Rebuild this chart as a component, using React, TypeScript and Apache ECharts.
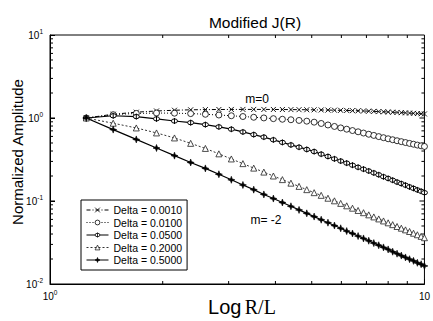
import React, { useEffect, useRef } from "react";
import * as echarts from "echarts";

// R/L sample positions (linear spacing)
const X = [
  1.25, 1.475, 1.7, 1.925, 2.15, 2.375, 2.6, 2.825, 3.05, 3.275,
  3.5, 3.725, 3.95, 4.175, 4.4, 4.625, 4.85, 5.075, 5.3, 5.525,
  5.75, 5.975, 6.2, 6.425, 6.65, 6.875, 7.1, 7.325, 7.55, 7.775,
  8.0, 8.225, 8.45, 8.675, 8.9, 9.125, 9.35, 9.575, 9.8, 10.0,
];

const D0010 = [
  1.0, 1.11, 1.175, 1.215, 1.24, 1.255, 1.262, 1.266, 1.268, 1.269,
  1.269, 1.268, 1.267, 1.265, 1.263, 1.26, 1.257, 1.254, 1.25, 1.246,
  1.242, 1.237, 1.232, 1.227, 1.221, 1.215, 1.209, 1.202, 1.195, 1.188,
  1.181, 1.174, 1.167, 1.16, 1.153, 1.146, 1.139, 1.132, 1.125, 1.119,
];

const D0100 = [
  1.0, 1.096, 1.135, 1.148, 1.143, 1.13, 1.109, 1.086, 1.064, 1.042,
  1.021, 1.002, 0.982, 0.966, 0.953, 0.935, 0.916, 0.891, 0.859, 0.824,
  0.791, 0.76, 0.733, 0.706, 0.682, 0.659, 0.637, 0.617, 0.597, 0.579,
  0.562, 0.547, 0.532, 0.519, 0.506, 0.494, 0.483, 0.472, 0.462, 0.454,
];

const D0500 = [
  1.0, 1.064, 1.04, 0.977, 0.92, 0.879, 0.832, 0.782, 0.733, 0.679,
  0.631, 0.589, 0.546, 0.508, 0.474, 0.445, 0.418, 0.394, 0.367, 0.344,
  0.322, 0.303, 0.286, 0.27, 0.255, 0.242, 0.23, 0.218, 0.207, 0.196,
  0.187, 0.178, 0.169, 0.162, 0.155, 0.148, 0.142, 0.136, 0.131, 0.126,
];

const D2000 = [
  1.0, 0.865, 0.759, 0.661, 0.575, 0.495, 0.43, 0.37, 0.321, 0.282,
  0.249, 0.223, 0.2, 0.181, 0.164, 0.15, 0.137, 0.126, 0.117, 0.108,
  0.1005, 0.0936, 0.0875, 0.0819, 0.0769, 0.0723, 0.0681, 0.0643, 0.0608, 0.0575,
  0.0546, 0.0519, 0.0493, 0.047, 0.0449, 0.0429, 0.0409, 0.0392, 0.0375, 0.0361,
];

const D5000 = [
  1.0, 0.725, 0.552, 0.435, 0.352, 0.291, 0.247, 0.21, 0.18, 0.156,
  0.137, 0.12, 0.107, 0.0959, 0.0863, 0.0781, 0.071, 0.0649, 0.0595, 0.0548,
  0.0506, 0.0469, 0.0434, 0.0406, 0.0378, 0.0354, 0.0332, 0.0311, 0.0293, 0.0276,
  0.0261, 0.0245, 0.0232, 0.022, 0.0209, 0.0199, 0.019, 0.018, 0.0173, 0.0165,
];

const NAMES = [
  "Delta = 0.0010",
  "Delta = 0.0100",
  "Delta = 0.0500",
  "Delta = 0.2000",
  "Delta = 0.5000",
];

const X_MINOR = [2, 3, 4, 5, 6, 7, 8, 9];
const Y_MINOR = [
  0.02, 0.03, 0.04, 0.05, 0.06, 0.07, 0.08, 0.09,
  0.2, 0.3, 0.4, 0.5, 0.6, 0.7, 0.8, 0.9,
  2, 3, 4, 5, 6, 7, 8, 9,
];
const Y_MAJOR = [0.1, 1];

const X_MIN = 1, X_MAX = 10, Y_MIN = 0.01, Y_MAX = 10;

const SANS = "Liberation Sans, Arial, sans-serif";
const SERIF = "Liberation Serif, Times New Roman, serif";

const SYM_X = "path://M0,0L10,10M10,0L0,10";
const SYM_O = "path://M0,5a5,5 0 1,0 10,0a5,5 0 1,0 -10,0Z";
const SYM_PHI = "path://M0,5a5,5 0 1,0 10,0a5,5 0 1,0 -10,0ZM5,-2L5,12";
const SYM_TRI = "path://M5,0L10,9L0,9Z";
const SYM_STAR = "path://M5,0L6.3,3.7L10,5L6.3,6.3L5,10L3.7,6.3L0,5L3.7,3.7Z";

export default function App() {
  const ref = useRef<HTMLDivElement>(null);
  useEffect(() => {
    if (!ref.current) return;
    const chart = echarts.init(ref.current, null, { renderer: "svg" });

    const mk = (ys: number[]) => X.map((x, i) => [x, ys[i]]);

    const xTicks = (len: number) => (params: any, api: any) => {
      const v = api.value(0);
      const b = api.coord([v, Y_MIN]);
      const t = api.coord([v, Y_MAX]);
      return {
        type: "group",
        children: [
          { type: "line", shape: { x1: b[0], y1: b[1], x2: b[0], y2: b[1] - len }, style: { stroke: "#000", lineWidth: 1 } },
          { type: "line", shape: { x1: t[0], y1: t[1], x2: t[0], y2: t[1] + len }, style: { stroke: "#000", lineWidth: 1 } },
        ],
      };
    };
    const yTicks = (len: number) => (params: any, api: any) => {
      const v = api.value(1);
      const l = api.coord([X_MIN, v]);
      const r = api.coord([X_MAX, v]);
      return {
        type: "group",
        children: [
          { type: "line", shape: { x1: l[0], y1: l[1], x2: l[0] + len, y2: l[1] }, style: { stroke: "#000", lineWidth: 1 } },
          { type: "line", shape: { x1: r[0], y1: r[1], x2: r[0] - len, y2: r[1] }, style: { stroke: "#000", lineWidth: 1 } },
        ],
      };
    };

    const supLabel = (v: number, isX: boolean) => {
      const e = Math.round(Math.log10(v));
      if (isX && e === 1) return "{b|10}";
      return "{b|10}{s|" + e + "}";
    };
    const rich = {
      b: { fontSize: 10, fontFamily: SANS, color: "#000", lineHeight: 12 },
      s: { fontSize: 6.5, fontFamily: SANS, color: "#000", lineHeight: 12, padding: [0, 0, 7, 0] },
    };

    const lineBase = {
      type: "line" as const,
      showSymbol: true,
      symbolSize: 6,
      z: 3,
    };

    chart.setOption({
      animation: false,
      backgroundColor: "#fff",
      title: {
        text: "Modified J(R)",
        left: 250,
        top: 9,
        textAlign: "center",
        textStyle: { fontSize: 15.5, fontWeight: "normal", fontFamily: SANS, color: "#000" },
      },
      grid: {
        left: 50,
        right: 5,
        top: 35,
        bottom: 37,
        show: true,
        borderColor: "#000",
        borderWidth: 1,
        backgroundColor: "transparent",
      },
      xAxis: {
        type: "log",
        logBase: 10,
        min: X_MIN,
        max: X_MAX,
        axisLine: { show: true, lineStyle: { color: "#000" } },
        axisTick: { show: true, inside: true, length: 5, lineStyle: { color: "#000" } },
        splitLine: { show: false },
        axisLabel: { margin: 6, formatter: (v: number) => supLabel(v, true), rich },
      },
      yAxis: {
        type: "log",
        logBase: 10,
        min: Y_MIN,
        max: Y_MAX,
        axisLine: { show: true, lineStyle: { color: "#000" } },
        axisTick: { show: true, inside: true, length: 5, lineStyle: { color: "#000" } },
        splitLine: { show: false },
        axisLabel: { margin: 7, formatter: (v: number) => supLabel(v, false), rich },
      },
      legend: {
        orient: "vertical",
        left: 81,
        top: 200,
        itemWidth: 22,
        itemHeight: 6,
        itemGap: 0.5,
        padding: [4, 5, 4, 5],
        borderColor: "#000",
        borderWidth: 1,
        backgroundColor: "#fff",
        lineStyle: { width: 1 },
        itemStyle: { borderWidth: 0.8 },
        textStyle: { fontSize: 10.5, fontFamily: SANS, color: "#000", lineHeight: 12 },
        data: NAMES,
      },
      graphic: [
        {
          type: "text",
          x: 17,
          y: 152,
          rotation: Math.PI / 2,
          style: {
            text: "Normalized Amplitude",
            fontSize: 15,
            fontFamily: SANS,
            fill: "#000",
            textAlign: "center",
            textVerticalAlign: "middle",
          },
        },
        {
          type: "text",
          x: 242,
          y: 307,
          style: {
            text: "{a|Log} {c|R/L}",
            textAlign: "center",
            textVerticalAlign: "middle",
            rich: {
              a: { fontSize: 20, fontFamily: SANS, fill: "#000" },
              c: { fontSize: 20, fontFamily: SERIF, fill: "#000" },
            },
          } as any,
        },
        {
          type: "text",
          x: 257,
          y: 99,
          style: { text: "m=0", fontSize: 12, fontFamily: SANS, fill: "#000", textAlign: "center", textVerticalAlign: "middle" },
        },
        {
          type: "text",
          x: 266,
          y: 220,
          style: { text: "m= -2", fontSize: 12, fontFamily: SANS, fill: "#000", textAlign: "center", textVerticalAlign: "middle" },
        },
      ],
      series: [
        {
          ...lineBase,
          name: NAMES[0],
          data: mk(D0010),
          symbol: SYM_X,
          symbolSize: 5,
          lineStyle: { color: "#000", width: 1, type: [4, 2, 1, 2] },
          itemStyle: { color: "none", borderColor: "#000", borderWidth: 0.9 },
        },
        {
          ...lineBase,
          name: NAMES[1],
          data: mk(D0100),
          symbol: SYM_O,
          symbolSize: 6,
          lineStyle: { color: "#000", width: 1, type: [1, 2] },
          itemStyle: { color: "#fff", borderColor: "#000", borderWidth: 0.8 },
        },
        {
          ...lineBase,
          name: NAMES[2],
          data: mk(D0500),
          symbol: SYM_PHI,
          symbolSize: 6,
          lineStyle: { color: "#000", width: 1.2, type: "solid" },
          itemStyle: { color: "#fff", borderColor: "#000", borderWidth: 1 },
        },
        {
          ...lineBase,
          name: NAMES[3],
          data: mk(D2000),
          symbol: SYM_TRI,
          symbolSize: 6,
          lineStyle: { color: "#333", width: 1, type: [2, 2] },
          itemStyle: { color: "#fff", borderColor: "#222", borderWidth: 0.8 },
        },
        {
          ...lineBase,
          name: NAMES[4],
          data: mk(D5000),
          symbol: SYM_STAR,
          symbolSize: 7,
          lineStyle: { color: "#000", width: 1.2, type: "solid" },
          itemStyle: { color: "#000", borderColor: "#000", borderWidth: 0.6 },
        },
        {
          type: "custom",
          name: "xminor",
          data: X_MINOR.map((v) => [v, 1]),
          renderItem: xTicks(3),
          clip: false,
          silent: true,
          z: 2,
        },
        {
          type: "custom",
          name: "yminor",
          data: Y_MINOR.map((v) => [1, v]),
          renderItem: yTicks(3),
          clip: false,
          silent: true,
          z: 2,
        },
        {
          type: "custom",
          name: "ymajor",
          data: Y_MAJOR.map((v) => [1, v]),
          renderItem: yTicks(5),
          clip: false,
          silent: true,
          z: 2,
        },
      ],
    });
    return () => chart.dispose();
  }, []);

  return <div ref={ref} style={{ width: 433, height: 321, position: "absolute", left: 0, top: 0 }} />;
}
